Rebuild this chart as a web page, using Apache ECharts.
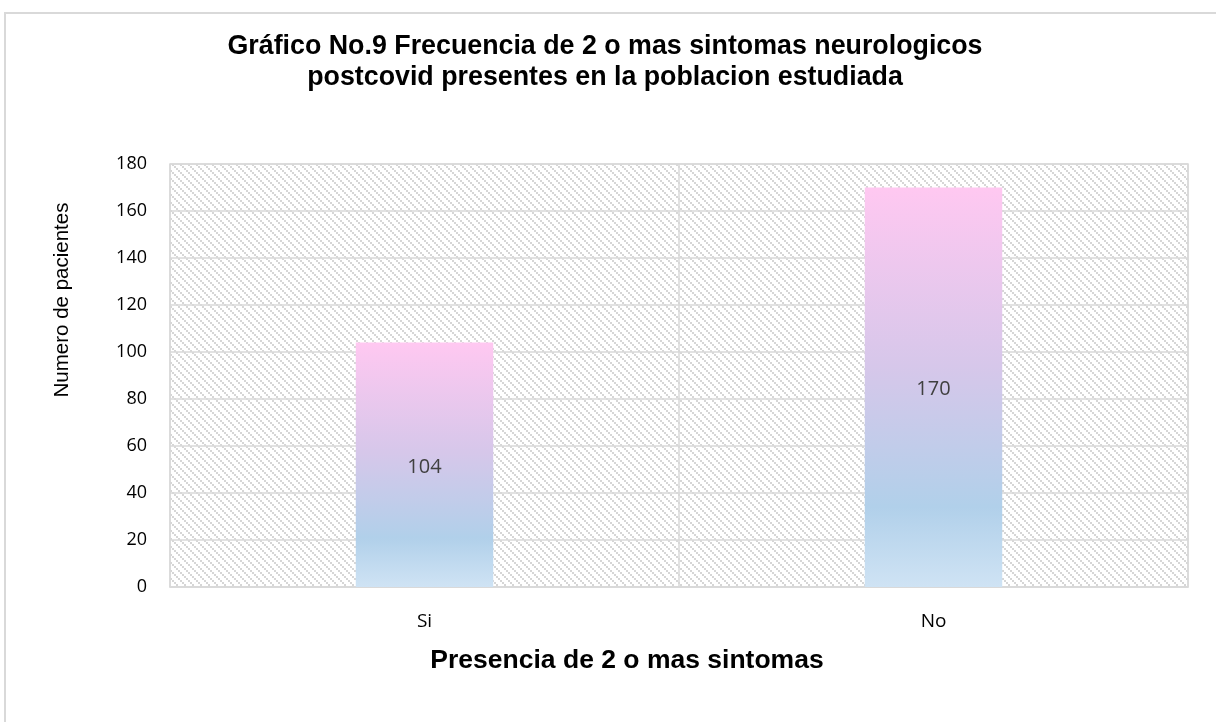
<!DOCTYPE html>
<html>
<head>
<meta charset="utf-8">
<script src="https://cdn.jsdelivr.net/npm/echarts@6/dist/echarts.min.js"></script>
<style>
  html, body { margin: 0; padding: 0; background: #fff; }
  #chart { width: 1216px; height: 722px; }
</style>
</head>
<body>
<div id="chart"></div>
<script>
// Chart data
const categories = ['Si', 'No'];
const patients = [104, 170];
const yTicks = { min: 0, max: 180, interval: 20 };

const titleText = 'Gráfico No.9 Frecuencia de 2 o mas sintomas neurologicos\npostcovid presentes en la poblacion estudiada';
const xName = 'Presencia de 2 o mas sintomas';
const yName = 'Numero de pacientes';

// Diagonal hatch tile for the plot background
function hatchTile() {
  const c = document.createElement('canvas');
  c.width = 8; c.height = 8;
  const ctx = c.getContext('2d');
  ctx.fillStyle = '#ffffff';
  ctx.fillRect(0, 0, 8, 8);
  ctx.fillStyle = '#d6d6d6';
  for (let k = 0; k < 4; k++) ctx.fillRect(2 * k, 2 * k, 2, 2);
  return c;
}

const chart = echarts.init(document.getElementById('chart'), null, { renderer: 'canvas' });

const barGradient = new echarts.graphic.LinearGradient(0, 0, 0, 1, [
  { offset: 0, color: '#ffc8f1' },
  { offset: 0.45, color: '#d6c7ea' },
  { offset: 0.8, color: '#b1d0ea' },
  { offset: 1, color: '#cfe3f4' }
]);

chart.setOption({
  backgroundColor: '#ffffff',
  animation: false,
  title: {
    text: titleText,
    left: 600,
    top: 26,
    textAlign: 'center',
    textStyle: {
      fontFamily: 'Liberation Sans, Arial, sans-serif',
      fontSize: 26.8,
      fontWeight: 'bold',
      color: '#000',
      lineHeight: 31
    }
  },
  grid: {
    left: 170, right: 28, top: 164, bottom: 135,
    show: true,
    backgroundColor: { image: hatchTile(), repeat: 'repeat' },
    borderColor: '#d9d9d9',
    borderWidth: 1.5
  },
  xAxis: {
    type: 'category',
    data: categories,
    axisLine: { lineStyle: { color: '#d9d9d9', width: 1.5 } },
    axisTick: { show: false },
    axisLabel: {
      margin: 25,
      fontFamily: 'Open Sans, sans-serif',
      fontSize: 19,
      color: '#000'
    },
    splitLine: { show: true, lineStyle: { color: '#d9d9d9', width: 1.5 } }
  },
  yAxis: {
    type: 'value',
    min: yTicks.min,
    max: yTicks.max,
    interval: yTicks.interval,
    axisLine: { show: false },
    axisTick: { show: false },
    axisLabel: {
      margin: 23,
      fontFamily: 'Open Sans, sans-serif',
      fontSize: 18,
      color: '#000'
    },
    splitLine: { lineStyle: { color: '#d9d9d9', width: 1.5 } }
  },
  series: [{
    type: 'bar',
    data: patients,
    barWidth: '27%',
    itemStyle: { color: barGradient },
    label: {
      show: true,
      position: 'inside',
      offset: [0, 2],
      fontFamily: 'Open Sans, sans-serif',
      fontSize: 20,
      color: '#404040'
    }
  }],
  graphic: [
    {
      type: 'rect',
      silent: true,
      z: -10,
      shape: { x: 5, y: 13, width: 1240, height: 740 },
      style: { fill: 'none', stroke: '#d9d9d9', lineWidth: 2 }
    },
    {
      type: 'text',
      x: 62, y: 300,
      rotation: Math.PI / 2,
      style: {
        text: yName,
        fontFamily: 'Liberation Sans, Arial, sans-serif',
        fontSize: 20.5,
        fill: '#000',
        align: 'center',
        verticalAlign: 'middle'
      }
    },
    {
      type: 'text',
      x: 627, y: 661,
      style: {
        text: xName,
        fontFamily: 'Liberation Sans, Arial, sans-serif',
        fontSize: 26.5,
        fontWeight: 'bold',
        fill: '#000',
        align: 'center',
        verticalAlign: 'middle'
      }
    }
  ]
});
</script>
</body>
</html>
